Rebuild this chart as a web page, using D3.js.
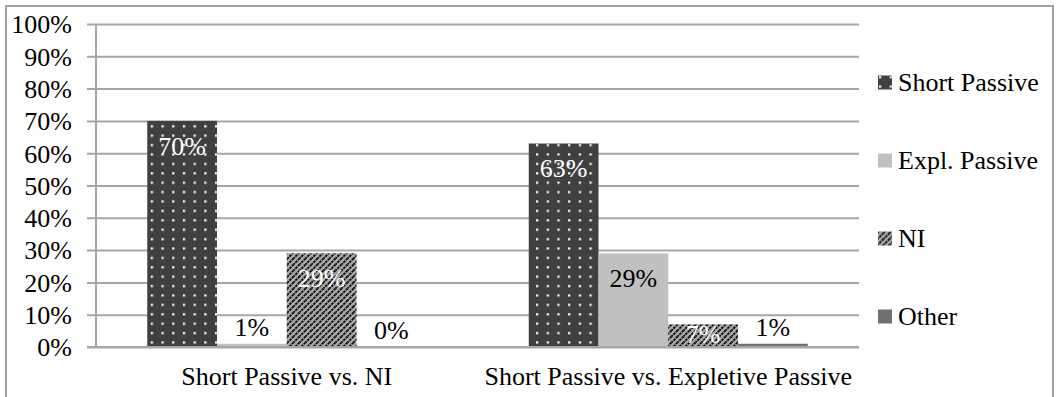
<!DOCTYPE html>
<html>
<head>
<meta charset="utf-8">
<script src="https://cdn.jsdelivr.net/npm/d3@7"></script>
<style>
  html, body { margin: 0; padding: 0; background: #fff; }
  svg { display: block; font-family: "Liberation Serif", "Times New Roman", serif; }
</style>
</head>
<body>
<svg id="chart" width="1058" height="397"></svg>
<script>
// Comparison categories on the x axis
const categories = ["Short Passive vs. NI", "Short Passive vs. Expletive Passive"];
// Response types (one bar per type inside each category)
const seriesNames = ["Short Passive", "Expl. Passive", "NI", "Other"];
// Percentages per series, in category order
const shortPassive = [70, 63];
const explPassive = [1, 29];
const ni = [29, 7];
const other = [0, 1];
// Y axis ticks
const yTicks = [0, 10, 20, 30, 40, 50, 60, 70, 80, 90, 100];
const yTickLabels = yTicks.map(d => d + "%");

const seriesValues = [shortPassive, explPassive, ni, other];

const svg = d3.select("#chart");

const plot = { left: 96, right: 859, top: 24, bottom: 347 };
const fontSize = 26;

// pattern fills
const defs = svg.append("defs");
const dots = defs.append("pattern").attr("id", "dots")
  .attr("patternUnits", "userSpaceOnUse")
  .attr("width", 10.7).attr("height", 9.4);
dots.append("rect").attr("width", 10.7).attr("height", 9.4).attr("fill", "#404040");
dots.append("rect").attr("x", 1).attr("y", 3).attr("width", 2.2).attr("height", 2.2).attr("fill", "#fff");

const stripes = defs.append("pattern").attr("id", "stripes")
  .attr("patternUnits", "userSpaceOnUse")
  .attr("width", 6).attr("height", 6);
stripes.append("rect").attr("width", 6).attr("height", 6).attr("fill", "#a6a6a6");
stripes.append("path")
  .attr("d", "M-1,7 L7,-1 M-1,1 L1,-1 M5,7 L7,5")
  .attr("stroke", "#000").attr("stroke-width", 1.7)
  .attr("stroke-dasharray", "2.5,0.9");

const fills = ["url(#dots)", "#c0c0c0", "url(#stripes)", "#707070"];
const labelColors = ["#fff", "#000", "#fff", "#000"];

// outer frame
svg.append("rect")
  .attr("x", 6).attr("y", 6).attr("width", 1047).attr("height", 420)
  .attr("fill", "none").attr("stroke", "#a0a0a0").attr("stroke-width", 2);

// scales
const y = d3.scaleLinear().domain([0, 100]).range([plot.bottom, plot.top]);
const x0 = d3.scaleBand().domain(categories).range([plot.left, plot.right]).padding(0);
const x1 = d3.scaleBand().domain(seriesNames).range([0, x0.bandwidth()])
  .paddingInner(0).paddingOuter(0.735);

// gridlines + tick labels
const yAxis = d3.axisLeft(y)
  .tickValues(yTicks)
  .tickFormat((d, i) => yTickLabels[i])
  .tickSizeInner(-(plot.right - 87))
  .tickSizeOuter(0)
  .tickPadding(15);

const gy = svg.append("g").attr("transform", "translate(87,0)").call(yAxis);
gy.select(".domain").remove();
gy.selectAll(".tick line").attr("stroke", "#a6a6a6").attr("stroke-width", 2);
gy.selectAll(".tick text")
  .attr("font-size", fontSize)
  .attr("font-family", "Liberation Serif, serif")
  .attr("fill", "#000")
  .attr("dy", null)
  .attr("y", 8.8);

// vertical axis line
svg.append("line")
  .attr("x1", plot.left).attr("x2", plot.left)
  .attr("y1", y(100)).attr("y2", y(0))
  .attr("stroke", "#a6a6a6").attr("stroke-width", 2);

// bars
const barData = [];
categories.forEach((c, ci) => {
  seriesNames.forEach((s, si) => {
    barData.push({ cat: c, series: s, si, value: seriesValues[si][ci] });
  });
});

svg.append("g").selectAll("rect")
  .data(barData)
  .join("rect")
  .attr("x", d => x0(d.cat) + x1(d.series))
  .attr("y", d => y(d.value))
  .attr("width", x1.bandwidth())
  .attr("height", d => y(0) - y(d.value))
  .attr("fill", d => fills[d.si]);

// redraw baseline over the bars
svg.append("line")
  .attr("x1", 87).attr("x2", plot.right)
  .attr("y1", y(0)).attr("y2", y(0))
  .attr("stroke", "#a6a6a6").attr("stroke-width", 2);

// value labels: inside the bar top, or above a very short bar
svg.append("g").selectAll("text")
  .data(barData)
  .join("text")
  .attr("x", d => x0(d.cat) + x1(d.series) + x1.bandwidth() / 2)
  .attr("y", d => {
    const inside = d.value >= 5;
    const cy = inside ? Math.min(y(d.value) + 25, y(0) - 13) : y(d.value) - 17;
    return cy + 8.8;
  })
  .attr("text-anchor", "middle")
  .attr("font-size", fontSize)
  .attr("fill", d => d.value >= 5 ? labelColors[d.si] : "#000")
  .text(d => d.value + "%");

// category labels
svg.append("g").selectAll("text")
  .data(categories)
  .join("text")
  .attr("x", d => x0(d) + x0.bandwidth() / 2)
  .attr("y", 385)
  .attr("text-anchor", "middle")
  .attr("font-size", fontSize)
  .attr("fill", "#000")
  .text(d => d);

// legend
const legend = svg.append("g").selectAll("g")
  .data(seriesNames)
  .join("g")
  .attr("transform", (d, i) => `translate(878, ${82.5 + i * 78})`);
legend.append("rect")
  .attr("x", 0).attr("y", -7).attr("width", 14).attr("height", 14)
  .attr("fill", (d, i) => fills[i]);
legend.append("text")
  .attr("x", 20).attr("y", 8.8)
  .attr("font-size", fontSize)
  .attr("fill", "#000")
  .text(d => d);
</script>
</body>
</html>
